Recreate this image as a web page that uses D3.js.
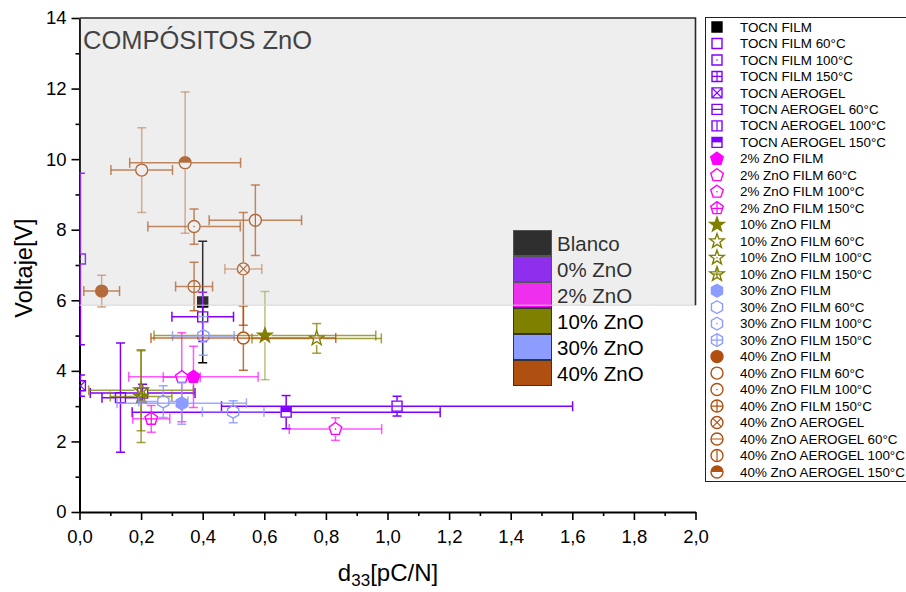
<!DOCTYPE html>
<html>
<head>
<meta charset="utf-8">
<script src="https://cdn.jsdelivr.net/npm/d3@7"></script>
<style>
  body { margin: 0; background: #fff; }
  svg { display: block; font-family: Arial, "Liberation Sans", sans-serif; }
</style>
</head>
<body>
<svg id="chart" width="906" height="592"></svg>
<script>
// ---- data ----
const seriesNames = [
  "TOCN FILM", "TOCN FILM 60°C", "TOCN FILM 100°C", "TOCN FILM 150°C",
  "TOCN AEROGEL", "TOCN AEROGEL 60°C", "TOCN AEROGEL 100°C", "TOCN AEROGEL 150°C",
  "2% ZnO FILM", "2% ZnO FILM 60°C", "2% ZnO FILM 100°C", "2% ZnO FILM 150°C",
  "10% ZnO FILM", "10% ZnO FILM 60°C", "10% ZnO FILM 100°C", "10% ZnO FILM 150°C",
  "30% ZnO FILM", "30% ZnO FILM 60°C", "30% ZnO FILM 100°C", "30% ZnO FILM 150°C",
  "40% ZnO FILM", "40% ZnO FILM 60°C", "40% ZnO FILM 100°C", "40% ZnO FILM 150°C",
  "40% ZnO AEROGEL", "40% ZnO AEROGEL 60°C", "40% ZnO AEROGEL 100°C", "40% ZnO AEROGEL 150°C"
];
const seriesGroup = [
  "Blanco", "0% ZnO", "0% ZnO", "0% ZnO", "0% ZnO", "0% ZnO", "0% ZnO", "0% ZnO",
  "2% ZnO", "2% ZnO", "2% ZnO", "2% ZnO",
  "10% ZnO", "10% ZnO", "10% ZnO", "10% ZnO",
  "30% ZnO", "30% ZnO", "30% ZnO", "30% ZnO",
  "40% ZnO", "40% ZnO", "40% ZnO", "40% ZnO", "40% ZnO", "40% ZnO", "40% ZnO", "40% ZnO"
];
const d33 = [
  0.400, 0.400, 0.003, 0.133, 0.003, 1.031, 0.205, 0.671,
  0.370, 0.332, 0.831, 0.233,
  0.602, 0.770, 0.200, 0.200,
  0.332, 0.272, 0.499, 0.402,
  0.072, 0.202, 0.372, 0.372, 0.532, 0.532, 0.571, 0.343
];
const d33Err = [
  0, 0.10, 0, 0.06, 0, 0.57, 0.17, 0.50,
  0.21, 0.06, 0.15, 0.06,
  0.36, 0.21, 0.17, 0.10,
  0.21, 0.08, 0.10, 0.10,
  0.058, 0.10, 0.15, 0.06, 0.06, 0.30, 0.15, 0.18
];
const voltage = [
  5.95, 5.53, 7.17, 3.24, 3.58, 3.00, 3.37, 2.83,
  3.83, 3.82, 2.35, 2.64,
  5.00, 4.92, 3.45, 3.27,
  3.08, 3.13, 2.84, 4.99,
  6.26, 9.69, 8.09, 6.39, 6.89, 4.93, 8.27, 9.90
];
const voltageErr = [
  1.72, 0.70, 2.43, 1.55, 0.30, 0.28, 0.25, 0.47,
  0.87, 1.26, 0.32, 0.38,
  1.25, 0.42, 1.15, 1.30,
  0.59, 0.45, 0.31, 0.55,
  0.45, 1.20, 0.50, 0.69, 1.60, 0.91, 1.00, 2.00
];
const groupNames = ["Blanco", "0% ZnO", "2% ZnO", "10% ZnO", "30% ZnO", "40% ZnO"];
const xTicks = [0, 0.2, 0.4, 0.6, 0.8, 1.0, 1.2, 1.4, 1.6, 1.8, 2.0];
const xMinorTicks = [0.1, 0.3, 0.5, 0.7, 0.9, 1.1, 1.3, 1.5, 1.7, 1.9];
const yTicks = [0, 2, 4, 6, 8, 10, 12, 14];
const yMinorTicks = [1, 3, 5, 7, 9, 11, 13];
const shadedFrom = 5.86;   // lower edge of the shaded band (V)

// ---- styles ----
const groupStyle = {
  "Blanco":  { color: "#000000", shape: "square",   bar: 1.0 },
  "0% ZnO":  { color: "#8000ff", shape: "square",   bar: 1.0 },
  "2% ZnO":  { color: "#ff00ff", shape: "pentagon", bar: 0.65 },
  "10% ZnO": { color: "#808000", shape: "star",     bar: 0.75 },
  "30% ZnO": { color: "#8c9cff", shape: "hexagon",  bar: 0.85 },
  "40% ZnO": { color: "#b05010", shape: "circle",   bar: 0.8 }
};
const markerFill = [
  "filled", "open", "dot", "plus", "cross", "hline", "vline", "halftop",
  "filled", "open", "dot", "plus",
  "filled", "open", "dot", "plus",
  "filled", "open", "dot", "plus",
  "filled", "open", "dot", "plus", "cross", "hline", "vline", "halftop"
];
const lightVerticalBars = new Set(["10% ZnO FILM", "40% ZnO FILM", "40% ZnO FILM 60°C", "40% ZnO AEROGEL 150°C"]);
const lightHorizontalBars = new Set(["40% ZnO AEROGEL"]);

// ---- layout ----
const svg = d3.select("#chart");
const plot = { left: 79.5, right: 695.5, top: 18, bottom: 512 };
const x = d3.scaleLinear([0, 2], [plot.left, plot.right]);
const y = d3.scaleLinear([0, 14], [plot.bottom, plot.top]);
const fmt = d3.formatLocale({ decimal: ",", thousands: ".", grouping: [3], currency: ["", "€"] }).format(".1f");

// marker geometry
function polygon(n, r, rot) {
  const pts = [];
  for (let i = 0; i < n; i++) {
    const a = rot + i * 2 * Math.PI / n;
    pts.push([r * Math.cos(a), r * Math.sin(a)]);
  }
  return "M" + pts.map(p => p[0].toFixed(2) + "," + p[1].toFixed(2)).join("L") + "Z";
}
function starPath(R, r) {
  const pts = [];
  for (let i = 0; i < 10; i++) {
    const a = -Math.PI / 2 + i * Math.PI / 5;
    const rr = i % 2 === 0 ? R : r;
    pts.push([rr * Math.cos(a), rr * Math.sin(a)]);
  }
  return "M" + pts.map(p => p[0].toFixed(2) + "," + p[1].toFixed(2)).join("L") + "Z";
}
const shapes = {
  square:   { d: "M-5,-5H5V5H-5Z", r: 5 },
  circle:   { d: "M-6,0A6,6 0 1,0 6,0A6,6 0 1,0 -6,0Z", r: 6 },
  pentagon: { d: polygon(5, 6.6, -Math.PI / 2), r: 6 },
  hexagon:  { d: polygon(6, 6.4, -Math.PI / 2), r: 6 },
  star:     { d: starPath(7.6, 3.1), r: 6 }
};

const defs = svg.append("defs");
Object.entries(shapes).forEach(([k, s]) => {
  defs.append("clipPath").attr("id", "shape-" + k).append("path").attr("d", s.d);
});
defs.append("clipPath").attr("id", "plot-clip").append("rect")
  .attr("x", plot.left).attr("y", plot.top)
  .attr("width", plot.right - plot.left).attr("height", plot.bottom - plot.top);

function drawMarker(parent, cx, cy, shapeName, color, fill) {
  const s = shapes[shapeName];
  const g = parent.append("g").attr("transform", `translate(${cx},${cy})`);
  const inner = g.append("g").attr("clip-path", `url(#shape-${shapeName})`)
    .attr("stroke", color).attr("stroke-width", 1.2).attr("fill", "none");
  const R = 9;
  if (fill === "dot") inner.append("circle").attr("r", 0.8).attr("fill", color).attr("stroke", "none");
  if (fill === "plus") {
    inner.append("line").attr("x1", -R).attr("x2", R);
    inner.append("line").attr("y1", -R).attr("y2", R);
  }
  if (fill === "cross") {
    inner.append("line").attr("x1", -R).attr("y1", -R).attr("x2", R).attr("y2", R);
    inner.append("line").attr("x1", -R).attr("y1", R).attr("x2", R).attr("y2", -R);
  }
  if (fill === "hline") inner.append("line").attr("x1", -R).attr("x2", R);
  if (fill === "vline") inner.append("line").attr("y1", -R).attr("y2", R);
  if (fill === "halftop") inner.append("rect").attr("x", -R).attr("y", -R).attr("width", 2 * R).attr("height", R)
    .attr("fill", color).attr("stroke", "none");
  g.append("path").attr("d", s.d)
    .attr("fill", fill === "filled" ? color : "none")
    .attr("stroke", color).attr("stroke-width", 1.4).attr("stroke-linejoin", "miter");
}

// ---- axes ----
svg.append("g").attr("transform", `translate(0,${plot.bottom})`)
  .call(d3.axisBottom(x).tickValues(xTicks).tickFormat(fmt).tickSize(8).tickPadding(10).tickSizeOuter(0));
svg.append("g").attr("transform", `translate(0,${plot.bottom})`)
  .call(d3.axisBottom(x).tickValues(xMinorTicks).tickFormat("").tickSize(4).tickSizeOuter(0))
  .call(g => g.select(".domain").remove());
svg.append("g").attr("transform", `translate(${plot.left},0)`)
  .call(d3.axisLeft(y).tickValues(yTicks).tickFormat(d3.format("d")).tickSize(8).tickPadding(5).tickSizeOuter(0));
svg.append("g").attr("transform", `translate(${plot.left},0)`)
  .call(d3.axisLeft(y).tickValues(yMinorTicks).tickFormat("").tickSize(4).tickSizeOuter(0))
  .call(g => g.select(".domain").remove());
svg.selectAll(".domain").attr("stroke", "#000").attr("stroke-width", 2);
svg.selectAll(".tick line").attr("stroke", "#000").attr("stroke-width", 1.6);
svg.selectAll(".tick text").attr("font-size", 18.5).attr("fill", "#000")
  .attr("font-family", 'Arial, "Liberation Sans", sans-serif');

// axis titles
svg.append("text").attr("transform", `translate(32,${(plot.top + plot.bottom) / 2 + 3}) rotate(-90)`)
  .attr("text-anchor", "middle").attr("font-size", 23.5).attr("fill", "#000").text("Voltaje[V]");
const xt = svg.append("text").attr("x", 388).attr("y", 581).attr("text-anchor", "middle")
  .attr("font-size", 24).attr("fill", "#000");
xt.append("tspan").text("d");
xt.append("tspan").attr("font-size", 17).attr("dy", 5).text("33");
xt.append("tspan").attr("dy", -5).text("[pC/N]");

// ---- data marks ----
const dataLayer = svg.append("g").attr("clip-path", "url(#plot-clip)");
seriesNames.forEach((name, i) => {
  const st = groupStyle[seriesGroup[i]];
  const s = shapes[st.shape];
  const cx = x(d33[i]), cy = y(voltage[i]);
  const g = dataLayer.append("g").attr("stroke", st.color).attr("stroke-width", 1.5).attr("fill", "none");
  const gap = s.r + 0.5;
  if (d33Err[i] > 0) {
    const hb = g.append("g").attr("stroke-opacity", lightHorizontalBars.has(name) ? 0.5 : st.bar);
    const x1 = x(d33[i] - d33Err[i]), x2 = x(d33[i] + d33Err[i]);
    if (cx - x1 > gap) hb.append("line").attr("x1", x1).attr("x2", cx - gap).attr("y1", cy).attr("y2", cy);
    if (x2 - cx > gap) hb.append("line").attr("x1", cx + gap).attr("x2", x2).attr("y1", cy).attr("y2", cy);
    [x1, x2].forEach(xx => hb.append("line").attr("x1", xx).attr("x2", xx).attr("y1", cy - 5).attr("y2", cy + 5));
  }
  if (voltageErr[i] > 0) {
    const vb = g.append("g").attr("stroke-opacity", lightVerticalBars.has(name) ? 0.5 : st.bar);
    const yTop = y(voltage[i] + voltageErr[i]), yBot = y(voltage[i] - voltageErr[i]);
    if (cy - yTop > gap) vb.append("line").attr("x1", cx).attr("x2", cx).attr("y1", yTop).attr("y2", cy - gap);
    if (yBot - cy > gap) vb.append("line").attr("x1", cx).attr("x2", cx).attr("y1", cy + gap).attr("y2", yBot);
    [yTop, yBot].forEach(yy => vb.append("line").attr("x1", cx - 4.5).attr("x2", cx + 4.5).attr("y1", yy).attr("y2", yy));
  }
  drawMarker(dataLayer, cx, cy, st.shape, st.color, markerFill[i]);
});

// ---- group colour key inside the plot ----
const key = svg.append("g");
groupNames.forEach((gname, i) => {
  const top = 230 + i * 26;
  key.append("rect").attr("x", 513.5).attr("y", top + 0.5).attr("width", 38).attr("height", 25)
    .attr("fill", groupStyle[gname].color).attr("stroke", "#333").attr("stroke-width", 1);
  key.append("text").attr("x", 557).attr("y", top + 20.5).attr("font-size", 20.5).attr("fill", "#000").text(gname);
});

// title
svg.append("text").attr("x", 83).attr("y", 49).attr("font-size", 25.5).attr("fill", "#1a1a1a").text("COMPÓSITOS ZnO");

// ---- shaded band ----
const bandBottom = y(shadedFrom);
svg.append("rect").attr("x", plot.left).attr("y", plot.top)
  .attr("width", plot.right - plot.left).attr("height", bandBottom - plot.top)
  .attr("fill", "rgb(186,186,186)").attr("fill-opacity", 0.25);
svg.append("line").attr("x1", plot.left).attr("x2", plot.right).attr("y1", bandBottom).attr("y2", bandBottom)
  .attr("stroke", "#d8d8d8").attr("stroke-width", 1);
svg.append("path").attr("d", `M${plot.left},${plot.top}H${plot.right}V${bandBottom}`)
  .attr("fill", "none").attr("stroke", "#2a2a2a").attr("stroke-width", 1.6);

// ---- series legend ----
const legend = svg.append("g");
legend.append("rect").attr("x", 705.5).attr("y", 17.5).attr("width", 230).attr("height", 464)
  .attr("fill", "#fff").attr("stroke", "#222").attr("stroke-width", 1);
seriesNames.forEach((name, i) => {
  const st = groupStyle[seriesGroup[i]];
  const cy = 27 + i * 16.48;
  drawMarker(legend, 717, cy, st.shape, st.color, markerFill[i]);
  legend.append("text").attr("x", 740).attr("y", cy + 4.6).attr("font-size", 13.4).attr("fill", "#000").text(name);
});
</script>
</body>
</html>
